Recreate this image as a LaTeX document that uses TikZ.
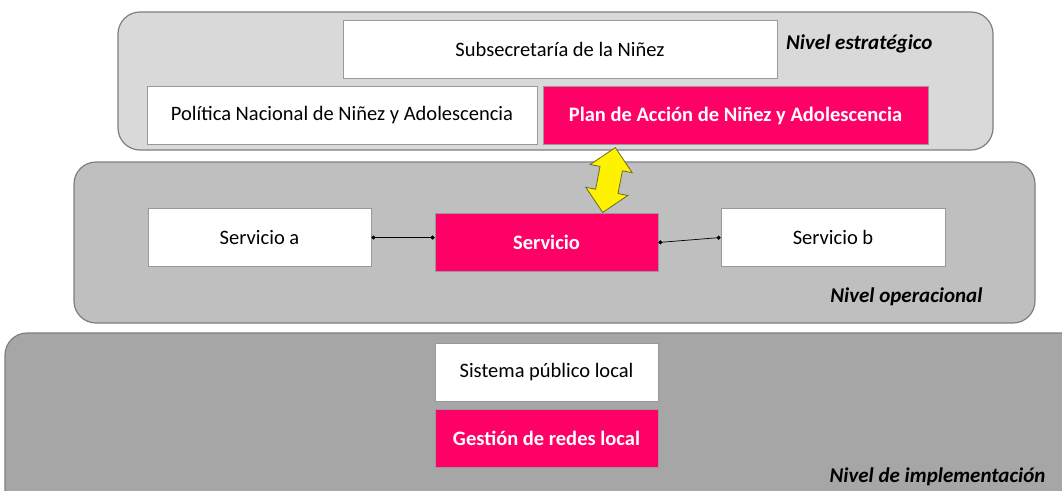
\documentclass[tikz,border=0pt]{standalone}
\usepackage{fontspec}
\setmainfont{Carlito}
\usetikzlibrary{arrows.meta,shapes.arrows}

\definecolor{hot}{HTML}{FF0066}
\definecolor{panelA}{HTML}{D9D9D9}
\definecolor{panelB}{HTML}{BFBFBF}
\definecolor{panelC}{HTML}{A6A6A6}
\definecolor{edge}{HTML}{7F7F7F}

\tikzset{
  panel/.style={draw=edge, line width=1.2pt, rounded corners=22pt},
  box/.style={draw=gray!80, line width=0.8pt, fill=white, minimum height=58pt,
    font=\fontsize{20.5}{24}\selectfont, inner sep=0pt},
  hotbox/.style={box, fill=hot, text=white, font=\fontsize{20.5}{24}\selectfont\bfseries},
  level/.style={anchor=east, font=\fontsize{21}{24}\selectfont\bfseries\itshape},
  link/.style={line width=0.7pt, {Circle[length=4pt]}-{Circle[length=4pt]}}
}

\begin{document}
\begin{tikzpicture}[x=1pt, y=-1pt]
  \useasboundingbox (0,0) rectangle (1062,490);
  \clip (0,0) rectangle (1062,490);
  \fill[white] (0,0) rectangle (1062,490);

  % panels
  \draw[panel, fill=panelA] (118,12) rectangle (993,150);
  \draw[panel, fill=panelB] (74,162) rectangle (1035,323);
  \draw[panel, fill=panelC] (5,333) rectangle (1090,520);

  % nivel estrategico
  \node[box, minimum width=434pt] (subsec) at (560,49.5) {Subsecretaría de la Niñez};
  \node[box, minimum width=390pt] (politica) at (342,115.5) {Política Nacional de Niñez y Adolescencia};
  \node[hotbox, minimum width=385pt] (plan) at (735.5,115.5) {Plan de Acción de Niñez y Adolescencia};
  \node[level] (lblA) at (936,44) {Nivel estratégico};

  % nivel operacional
  \node[box, minimum width=223pt] (servA) at (259.5,237.5) {Servicio a};
  \node[hotbox, minimum width=223pt] (serv) at (546.5,242.5) {Servicio};
  \node[box, minimum width=224pt] (servB) at (833,237.5) {Servicio b};
  \node[level] (lblB) at (986,297) {Nivel operacional};

  \draw[link] (servA.east) -- (servA.east -| serv.west);
  \draw[link] (serv.east) -- (servB.west);

  % flecha amarilla
  \node[double arrow, draw=olive!70!black, fill=yellow, line width=0.8pt,
    minimum height=66pt, inner xsep=0pt, inner ysep=11pt,
    double arrow head extend=10pt, rotate=79] (yarrow) at (609,180) {};

  % nivel de implementacion
  \node[box, minimum width=223pt] (sistema) at (546.5,372.5) {Sistema público local};
  \node[hotbox, minimum width=223pt] (gestion) at (546.5,438.5) {Gestión de redes local};
  \node[level] (lblC) at (1049,477) {Nivel de implementación};
\end{tikzpicture}
\end{document}
